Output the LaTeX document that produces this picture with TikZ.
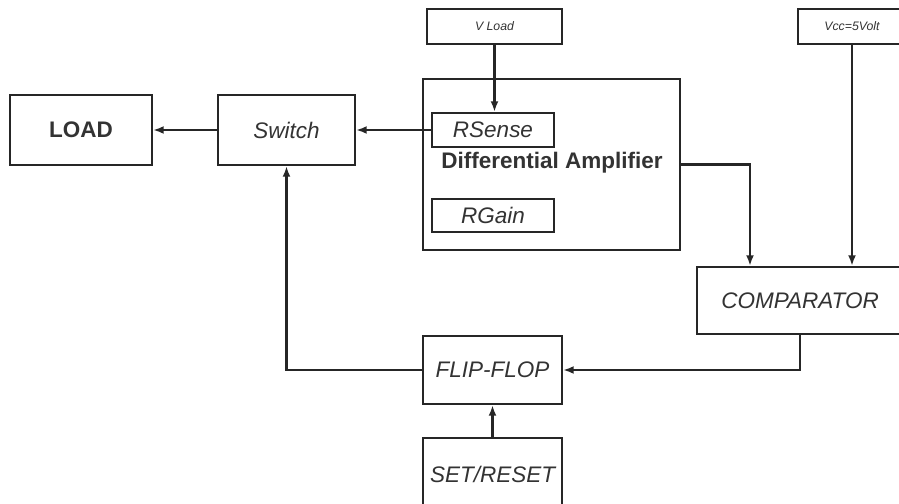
\documentclass[tikz,border=0pt]{standalone}
\usepackage{fontspec}
\setmainfont{Liberation Sans}
\usetikzlibrary{arrows.meta, positioning, calc}

\begin{document}
\begin{tikzpicture}[
  every node/.style={font=\fontsize{12.8}{15}\selectfont\itshape, text=black!80},
  blk/.style={draw=black!85, line width=1.3pt, fill=white, inner sep=0pt},
  tag/.style={blk, minimum width=2.70cm, minimum height=0.70cm, font=\fontsize{7}{8}\selectfont\itshape},
  a/.style={-{Latex[length=6pt,width=4.5pt]}, line width=1.3pt, draw=black!85}]
\useasboundingbox (0,0) rectangle (17.98,-10.08);
\node[blk, minimum width=2.84cm, minimum height=1.40cm, font=\fontsize{12.8}{15}\selectfont\bfseries] (ld) at (1.62,-2.60) {LOAD};
\node[blk, minimum width=2.74cm, minimum height=1.40cm] (sw) at (5.73,-2.60) {Switch};
\node[blk, minimum width=5.14cm, minimum height=3.42cm] (da) at (11.03,-3.29) {};
\node[font=\fontsize{12.8}{15}\selectfont\bfseries] (dal) at (11.04,-3.26) {Differential Amplifier};
\node[blk, minimum width=2.44cm, minimum height=0.68cm] (rs) at (9.86,-2.60) {RSense};
\node[blk, minimum width=2.44cm, minimum height=0.66cm] (rg) at (9.86,-4.31) {RGain};
\node[tag] (vl) at (9.89,-0.53) {V Load};
\node[tag, minimum width=2.16cm] (vcc) at (17.04,-0.53) {Vcc=5Volt};
\node[blk, minimum width=4.12cm, minimum height=1.34cm] (cmp) at (16.00,-6.01) {COMPARATOR};
\node[blk, minimum width=2.78cm, minimum height=1.36cm] (ff) at (9.85,-7.40) {FLIP-FLOP};
\node[blk, minimum width=2.78cm, minimum height=1.44cm] (sr) at (9.85,-9.48) {SET/RESET};
\draw[a] (sw)--(ld);
\draw[a] (rs)--(sw);
\draw[a] (vl.south)--(vl.south |- rs.north);
\draw[a] (da.east) -| ([xshift=-1cm]cmp.north);
\draw[a] (vcc.south)--(vcc.south |- cmp.north);
\draw[a] (cmp.south) |- (ff.east);
\draw[a] (ff.west) -| (sw.south);
\draw[a] (sr)--(ff);
\end{tikzpicture}
\end{document}
